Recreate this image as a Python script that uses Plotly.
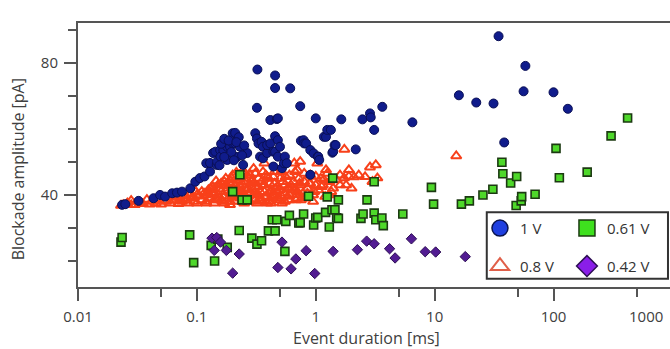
import plotly.graph_objects as go

# ---- 1 V (blue circles) ----
v1_x = [0.0235, 0.025, 0.0323, 0.0432, 0.049, 0.054, 0.062, 0.068, 0.075, 0.088, 0.097,
        0.106, 0.116, 0.12, 0.129, 0.129, 0.137, 0.143, 0.147, 0.148, 0.157, 0.158, 0.167,
        0.18, 0.18, 0.19, 0.2, 0.2, 0.21, 0.21, 0.218, 0.23, 0.245, 0.265,
        0.31, 0.32, 0.32, 0.323, 0.33, 0.34, 0.35, 0.36, 0.36, 0.39, 0.39, 0.415, 0.415,
        0.44, 0.44, 0.455, 0.455, 0.455, 0.455, 0.47, 0.48, 0.48, 0.48, 0.5, 0.52, 0.54,
        0.55, 0.57, 0.61, 0.74, 0.75, 0.79, 0.8, 0.83, 0.9, 0.9, 0.96, 1.0, 1.04, 1.05,
        1.07, 1.17, 1.22, 1.25, 1.34, 1.38, 1.4, 1.44, 1.47, 1.64, 2.17, 2.47, 2.86, 2.9,
        3.1, 3.63, 6.5, 16.0, 22.4, 31.3, 34.5, 38.5, 56.0, 58.0, 100.0, 132.0,
        0.16, 0.17, 0.185, 0.195, 0.205, 0.225, 0.215, 0.155, 0.17, 0.24, 0.25]
v1_y = [37.0, 37.2, 38.2, 39.0, 40.0, 39.5, 40.5, 40.7, 41.0, 42.0, 44.0,
        45.1, 45.6, 49.6, 47.1, 49.7, 52.7, 53.1, 49.1, 50.1, 53.6, 51.6, 53.6,
        54.6, 50.6, 54.6, 55.7, 58.7, 55.6, 58.8, 51.5, 54.6, 49.1, 52.7,
        58.7, 57.1, 66.4, 78.0, 55.6, 51.6, 56.1, 54.6, 51.1, 52.7, 55.1, 62.7, 55.6,
        53.1, 48.6, 76.2, 72.4, 57.8, 53.1, 63.0, 56.6, 51.6, 63.2, 54.6, 48.1, 49.6,
        51.6, 49.6, 72.3, 66.9, 56.4, 56.6, 55.6, 55.6, 53.6, 46.1, 52.6, 63.2, 51.6, 51.6,
        50.6, 57.6, 57.6, 59.7, 59.7, 52.8, 53.1, 55.1, 55.1, 62.9, 53.8, 62.9, 64.7, 63.5,
        59.7, 66.7, 62.0, 70.2, 68.0, 67.7, 88.1, 55.9, 71.4, 79.1, 71.1, 66.1,
        55.5, 57.0, 56.5, 53.0, 50.5, 57.5, 56.0, 49.0, 51.5, 52.0, 55.0]

# ---- 0.8 V (open red triangles) ----
v08_x = [0.023, 0.024, 0.026, 0.028, 0.03, 0.035, 0.04, 0.045, 0.05, 0.055, 0.06, 0.065,
         0.07, 0.075, 0.08, 0.085, 0.09, 0.095, 0.1, 0.1, 0.11, 0.11, 0.12, 0.12, 0.13,
         0.13, 0.14, 0.14, 0.15, 0.15, 0.16, 0.17, 0.17, 0.17, 0.18, 0.19, 0.19, 0.2,
         0.2, 0.21, 0.21, 0.22, 0.23, 0.23, 0.24, 0.25, 0.25, 0.26, 0.27, 0.28, 0.28,
         0.3, 0.3, 0.3, 0.32, 0.33, 0.34, 0.35, 0.36, 0.37, 0.37, 0.38, 0.4, 0.42, 0.42,
         0.45, 0.45, 0.48, 0.5, 0.5, 0.55, 0.55, 0.6, 0.6, 0.65, 0.66, 0.7, 0.7, 0.74,
         0.75, 0.8, 0.85, 0.9, 0.95, 1.0, 1.0, 1.03, 1.1, 1.17, 1.2, 1.22, 1.3, 1.4, 1.6,
         1.73, 1.74, 1.9, 1.9, 2.1, 2.86, 3.2, 3.3, 15.2,
         0.16, 0.22, 0.26, 0.33, 0.4, 0.52, 0.58, 0.68, 0.78, 0.12, 0.145, 0.19, 0.24,
         0.028, 0.033, 0.038, 0.042, 0.047, 0.052, 0.058, 0.063, 0.068, 0.072,
         0.078, 0.083, 0.088, 0.093, 0.098, 0.105, 0.115, 0.125, 0.135, 0.145,
         0.155, 0.165, 0.175, 0.185, 0.195, 0.205, 0.215, 0.225, 0.235, 0.245,
         0.255, 0.265, 0.275, 0.29, 0.31, 0.33, 0.35, 0.38, 0.41, 0.44,
         0.47, 0.51, 0.56, 0.62, 0.67, 0.72, 0.8, 0.88,
         0.2, 0.22, 0.25, 0.28, 0.31, 0.34, 0.37, 0.4, 0.43, 0.46,
         0.5, 0.54, 0.58, 0.63, 0.69, 0.75, 0.82, 0.9, 1.05, 1.15,
         1.25, 1.5, 1.8, 2.3, 2.6, 3.0,
         0.125, 0.135, 0.15, 0.16, 0.175, 0.19, 0.21, 0.23, 0.26, 0.29,
         0.32, 0.36, 0.39, 0.43, 0.48, 0.53, 0.6, 0.66, 0.73, 0.85,
         0.97, 1.12, 1.35, 0.14, 0.165, 0.185, 0.21, 0.235, 0.27, 0.3,
         0.34, 0.39, 0.45, 0.52, 0.6, 0.7, 0.95, 1.3, 1.6, 2.0]
v08_y = [36.8, 37.0, 37.5, 37.0, 37.0, 37.3, 37.2, 37.5, 37.2, 38.0, 37.5, 38.5,
         37.3, 38.0, 38.5, 37.5, 39.0, 38.0, 37.5, 40.0, 38.5, 41.0, 37.5, 40.0, 39.0,
         42.0, 37.5, 40.5, 38.5, 43.0, 41.0, 37.5, 39.5, 44.0, 42.0, 38.0, 40.5, 43.5,
         46.0, 38.0, 41.0, 44.5, 39.0, 42.5, 47.0, 37.5, 40.0, 44.0, 42.0, 38.0, 46.0,
         40.0, 43.5, 48.0, 37.5, 45.0, 41.0, 38.5, 47.0, 43.0, 49.6, 39.5, 45.0, 41.0, 37.5,
         43.5, 47.0, 39.0, 45.0, 41.5, 43.0, 38.0, 46.0, 40.0, 44.0, 49.6, 41.0, 47.5, 50.1,
         38.5, 44.0, 42.0, 46.0, 40.0, 43.0, 45.6, 49.6, 45.0, 44.6, 39.5, 47.6, 44.0, 42.0, 46.0,
         45.1, 53.8, 45.6, 47.6, 45.4, 48.4, 49.1, 45.1, 51.8,
         38.5, 39.5, 39.0, 40.0, 38.0, 39.5, 42.0, 38.5, 40.5, 38.0, 39.0, 37.0, 38.0,
         38.3, 37.8, 38.6, 38.0, 38.8, 38.4, 39.2, 38.3, 39.5, 38.8,
         39.7, 39.0, 40.2, 39.4, 41.0, 39.6, 40.5, 41.5, 42.5, 44.2,
         41.8, 43.0, 45.0, 43.8, 45.2, 42.0, 46.8, 41.0, 45.5, 43.0,
         46.5, 41.5, 45.0, 44.5, 46.5, 42.5, 44.0, 46.0, 43.5, 45.5,
         41.0, 47.0, 45.5, 43.0, 47.0, 45.0, 46.5, 43.5,
         39.5, 40.5, 42.0, 40.5, 38.5, 39.0, 41.0, 40.5, 39.0, 42.0,
         38.5, 40.5, 39.5, 42.0, 40.0, 43.0, 39.0, 43.5, 41.5, 43.0,
         46.5, 44.5, 43.0, 46.0, 45.5, 44.0,
         40.5, 41.5, 40.0, 43.5, 41.0, 44.5, 43.0, 45.0, 41.5, 44.0,
         40.5, 43.0, 45.5, 40.0, 42.5, 44.0, 42.0, 41.5, 43.5, 40.5,
         41.0, 42.5, 41.0, 38.5, 38.0, 39.0, 39.5, 40.5, 38.5, 41.5,
         38.0, 37.5, 39.5, 37.5, 38.5, 39.0, 38.0, 40.0, 43.0, 42.0]

# ---- 0.61 V (green squares) ----
v061_x = [0.023, 0.0235, 0.087, 0.094, 0.132, 0.141, 0.15, 0.18, 0.2, 0.227, 0.23, 0.24,
          0.265, 0.29, 0.32, 0.35, 0.4, 0.43, 0.455, 0.47, 0.55, 0.56, 0.6, 0.72, 0.74,
          0.79, 0.87, 0.96, 1.0, 1.04, 1.21, 1.25, 1.3, 1.37, 1.39, 1.45, 1.5, 1.55,
          1.55, 2.4, 2.5, 2.7, 3.1, 3.1, 3.2, 3.6, 3.7, 5.4, 9.4, 9.8, 16.8, 19.6, 25.5,
          30.9, 36.8, 37.5, 43.6, 49.0, 48.5, 53.5, 54.0, 70.0, 105.0, 112.0, 192.0,
          305.0, 420.0]
v061_y = [25.7, 27.1, 27.9, 19.5, 24.7, 20.0, 26.6, 24.1, 41.0, 29.2, 46.1, 38.5,
          38.5, 26.9, 25.1, 26.1, 29.1, 32.5, 29.1, 32.5, 22.9, 32.0, 33.8, 31.5, 31.6,
          34.2, 39.6, 30.9, 33.0, 33.2, 34.7, 39.4, 30.3, 35.5, 45.1, 35.5, 33.1, 38.5,
          32.9, 32.9, 34.2, 38.5, 34.5, 44.0, 32.5, 33.0, 30.7, 34.2, 42.3, 37.2, 37.2, 38.2, 40.0,
          41.7, 49.9, 46.4, 43.6, 45.6, 36.8, 38.2, 39.5, 40.2, 54.1, 45.2, 46.9,
          57.9, 63.3]

# ---- 0.42 V (purple diamonds) ----
v042_x = [0.134, 0.14, 0.147, 0.158, 0.177, 0.2, 0.227, 0.48, 0.52, 0.62, 0.68, 0.83,
          0.98, 1.4, 2.24, 2.68, 3.1, 4.18, 4.65, 6.38, 8.33, 10.2, 18.1]
v042_y = [26.9, 23.2, 27.1, 25.7, 23.2, 16.3, 22.1, 18.0, 25.7, 17.6, 20.6, 23.1,
          16.2, 22.9, 23.4, 26.0, 25.2, 23.7, 20.9, 26.7, 22.8, 22.7, 21.3]

series_names = ["1 V", "0.8 V", "0.61 V", "0.42 V"]

x_tick_vals = [0.01, 0.1, 1, 10, 100]
x_tick_text = ["0.01", "0.1", "1", "10", "100"]
x_minor_vals = [0.05, 0.5, 5, 50, 500]
y_tick_vals = [40, 80]
y_minor_vals = [20, 30, 50, 60, 70, 90]

FONT = "Open Sans"
AXC = "#555555"
TXT = "#404040"

fig = go.Figure()
# data traces (drawing order: triangles, circles, squares, diamonds)
fig.add_trace(go.Scatter(
    x=v08_x, y=v08_y, mode="markers", showlegend=False,
    marker=dict(symbol="triangle-up-open", size=9, color="#f8401a",
                line=dict(color="#f8401a", width=2))))
fig.add_trace(go.Scatter(
    x=v1_x, y=v1_y, mode="markers", showlegend=False,
    marker=dict(symbol="circle", size=9, color="#101c8c",
                line=dict(color="#0a0f55", width=1))))
fig.add_trace(go.Scatter(
    x=v061_x, y=v061_y, mode="markers", showlegend=False,
    marker=dict(symbol="square", size=8, color="#4ed82a",
                line=dict(color="#1c3a12", width=1.6))))
fig.add_trace(go.Scatter(
    x=v042_x, y=v042_y, mode="markers", showlegend=False,
    marker=dict(symbol="diamond", size=8, color="#521c92",
                line=dict(color="#2e0f55", width=1))))

# legend entries: row 1 in "legend", row 2 in "legend2"
legend_specs = [
    (series_names[0], "legend", dict(symbol="circle", size=16, color="#1f3fe0",
                                     line=dict(color="#0a1450", width=1.5))),
    (series_names[2], "legend", dict(symbol="square", size=16, color="#3ee01e",
                                     line=dict(color="#1c3a12", width=1.5))),
    (series_names[1], "legend2", dict(symbol="triangle-up-open", size=16, color="#e0604a",
                                      line=dict(color="#e0604a", width=2))),
    (series_names[3], "legend2", dict(symbol="diamond", size=16, color="#8a1ee8",
                                      line=dict(color="#2e0f55", width=1.5))),
]
for nm, lg, mk in legend_specs:
    fig.add_trace(go.Scatter(x=[None], y=[None], mode="markers", name=nm,
                             legend=lg, marker=mk, showlegend=True))

# legend frame
fig.add_shape(type="rect", xref="paper", yref="paper",
              x0=0.6905, x1=0.9966, y0=0.0314, y1=0.2834,
              line=dict(color="#333333", width=2), fillcolor="white", layer="above")

fig.add_annotation(text="1000", xref="paper", yref="paper", x=0.9595, y=-0.11,
                   showarrow=False, yanchor="middle", xanchor="center",
                   font=dict(family=FONT, size=15, color=TXT))
fig.add_annotation(text="Event duration [ms]", xref="paper", yref="paper",
                   x=0.487, y=-0.193, showarrow=False, yanchor="middle", xanchor="center",
                   font=dict(family=FONT, size=16, color=TXT))
fig.add_annotation(text="Blockade amplitude [pA]", xref="paper", yref="paper",
                   x=-0.1008, y=0.447, textangle=-90, showarrow=False,
                   xanchor="center", yanchor="middle",
                   font=dict(family=FONT, size=16, color=TXT))

leg_common = dict(
    orientation="h", xanchor="left", yanchor="top",
    bgcolor="rgba(0,0,0,0)", borderwidth=0,
    font=dict(family=FONT, size=15, color="#333333"),
    entrywidth=42, entrywidthmode="pixels",
)

fig.update_layout(
    width=670, height=349,
    margin=dict(l=78, r=0, t=23, b=62),
    paper_bgcolor="white", plot_bgcolor="white",
    font=dict(family=FONT, size=15, color=TXT),
    showlegend=True,
    legend=dict(x=0.679, y=0.2846, **leg_common),
    legend2=dict(x=0.679, y=0.141, **leg_common),
    xaxis=dict(
        type="log", range=[-2, 2.98], automargin=False,
        tickvals=x_tick_vals, ticktext=x_tick_text,
        ticks="outside", ticklen=12, tickwidth=2, tickcolor=AXC,
        ticklabelstandoff=3,
        minor=dict(tickvals=x_minor_vals, ticks="outside", ticklen=8, tickwidth=2, tickcolor=AXC),
        showline=True, linecolor=AXC, linewidth=2, mirror=True,
        showgrid=False, zeroline=False,
        tickfont=dict(family=FONT, size=15, color=TXT),
    ),
    yaxis=dict(
        range=[12.1, 92.1], automargin=False,
        tickvals=y_tick_vals,
        ticks="outside", ticklen=12, tickwidth=2, tickcolor=AXC,
        ticklabelstandoff=3,
        minor=dict(tickvals=y_minor_vals, ticks="outside", ticklen=8, tickwidth=2, tickcolor=AXC),
        showline=True, linecolor=AXC, linewidth=2, mirror=True,
        showgrid=False, zeroline=False,
        tickfont=dict(family=FONT, size=15, color=TXT),
    ),
)

fig.write_html(
    "out.html",
    config={"displayModeBar": False},
    post_script=("document.body.style.margin='0';"
                 "document.body.style.overflow='hidden';"
                 "document.documentElement.style.overflow='hidden';"),
)
